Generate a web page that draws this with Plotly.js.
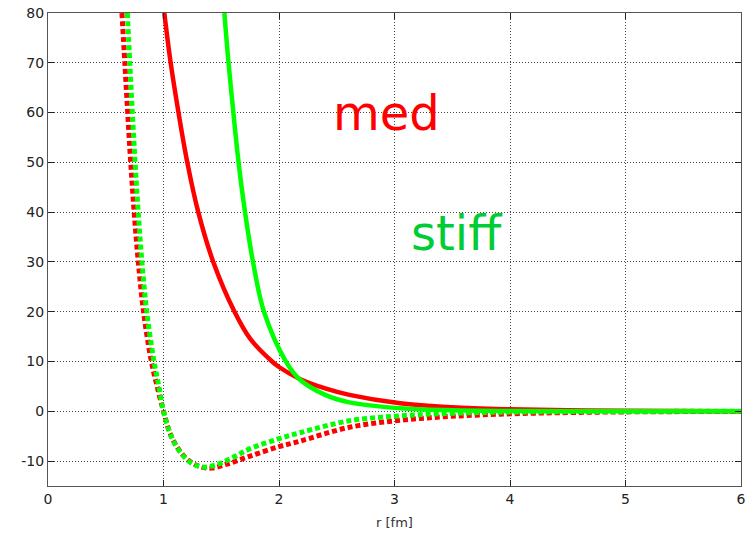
<!DOCTYPE html>
<html><head><meta charset="utf-8">
<script src="https://cdn.plot.ly/plotly-3.0.1.min.js"></script>
<style>html,body{margin:0;padding:0;background:#fff}</style>
</head><body><div id="chart" style="width:751px;height:535px"></div>
<script>
// r [fm] and potential values
const medRepR   = [1.007, 1.062, 1.13, 1.206, 1.301, 1.431, 1.615, 1.75, 1.94, 2.0, 2.18, 2.4, 2.61, 3.05, 3.5, 4.0, 4.5, 5.0, 6.0];
const medRepV   = [80, 70, 60, 50, 40, 30, 20, 14.6, 10, 8.9, 6.5, 4.6, 3.3, 1.6, 0.8, 0.4, 0.2, 0.1, 0.02];
const stiffRepR = [1.527, 1.563, 1.605, 1.65, 1.706, 1.775, 1.87, 2.06, 2.18, 2.4, 2.61, 3.05, 3.5, 4.0, 5.0, 6.0];
const stiffRepV = [80, 70, 60, 50, 40, 30, 20, 10, 6.4, 3.3, 1.8, 0.6, 0.2, 0.07, 0.01, 0.0];
const medAttR   = [0.64, 0.665, 0.69, 0.716, 0.746, 0.782, 0.827, 0.895, 0.945, 1.0, 1.05, 1.1, 1.17, 1.25, 1.33, 1.417, 1.55, 1.75, 2.0, 2.18, 2.61, 3.05, 3.5, 4.0, 4.5, 5.0, 6.0];
const medAttV   = [80, 70, 60, 50, 40, 30, 20, 10, 5, 0, -4, -6.5, -8.8, -10.4, -11.2, -11.4, -10.6, -9.0, -7.1, -6.0, -3.2, -1.8, -1.0, -0.5, -0.25, -0.12, -0.02];
const stiffAttR = [0.687, 0.708, 0.73, 0.754, 0.781, 0.813, 0.855, 0.918, 0.96, 1.0, 1.05, 1.1, 1.17, 1.25, 1.34, 1.45, 1.6, 1.75, 2.0, 2.18, 2.61, 3.05, 3.5, 4.0, 5.0, 6.0];
const stiffAttV = [80, 70, 60, 50, 40, 30, 20, 10, 5, 0, -4, -6.6, -8.9, -10.5, -11.2, -10.8, -9.3, -7.5, -5.5, -4.3, -1.9, -0.9, -0.4, -0.15, -0.03, 0.0];
const xTicks = [0, 1, 2, 3, 4, 5, 6];
const yTicks = [-10, 0, 10, 20, 30, 40, 50, 60, 70, 80];
const labels = ["med", "stiff"];

const red = '#ff0000', green = '#00ff00';
function tr(x, y, color, dash, w) {
  return {x: x, y: y, type: 'scatter', mode: 'lines', hoverinfo: 'skip',
    line: {color: color, width: w, dash: dash, shape: 'spline', smoothing: 1}};
}
const data = [
  tr(medAttR, medAttV, red, '5px,3px', 5),
  tr(stiffAttR, stiffAttV, green, '5px,3px', 5),
  tr(medRepR, medRepV, red, 'solid', 4.5),
  tr(stiffRepR, stiffRepV, green, 'solid', 4.5)
];
const axFont = {family: 'DejaVu Sans, sans-serif', size: 14, color: '#222'};
const layout = {
  width: 751, height: 535,
  margin: {l: 48, r: 10, t: 13, b: 49},
  paper_bgcolor: '#fff', plot_bgcolor: '#fff',
  showlegend: false,
  xaxis: {range: [0, 6], tickvals: xTicks, ticktext: xTicks.map(String),
    showgrid: true, gridcolor: '#444', griddash: '1px,2px', gridwidth: 1,
    zeroline: false, showline: true, linecolor: '#555', linewidth: 1, mirror: 'ticks',
    ticks: 'inside', ticklen: 6, tickcolor: '#222', tickfont: axFont,
    title: {text: 'r [fm]', font: {family: 'DejaVu Sans, sans-serif', size: 13, color: '#333'}, standoff: 12}},
  yaxis: {range: [-15, 80], tickvals: yTicks, ticktext: yTicks.map(String),
    showgrid: true, gridcolor: '#444', griddash: '1px,2px', gridwidth: 1,
    zeroline: false, showline: true, linecolor: '#555', linewidth: 1, mirror: 'ticks',
    ticks: 'inside', ticklen: 6, tickcolor: '#222', tickfont: axFont},
  annotations: [
    {x: 2.935, y: 56.1, xref: 'x', yref: 'y', text: labels[0], showarrow: false,
     xanchor: 'center', yanchor: 'bottom', yshift: -11,
     font: {family: 'DejaVu Sans, sans-serif', size: 48, color: '#ff0000'}},
    {x: 3.54, y: 32, xref: 'x', yref: 'y', text: labels[1], showarrow: false,
     xanchor: 'center', yanchor: 'bottom', yshift: -11,
     font: {family: 'DejaVu Sans, sans-serif', size: 48, color: '#00cc33'}}
  ]
};
Plotly.newPlot('chart', data, layout, {staticPlot: true, displayModeBar: false});
</script></body></html>
